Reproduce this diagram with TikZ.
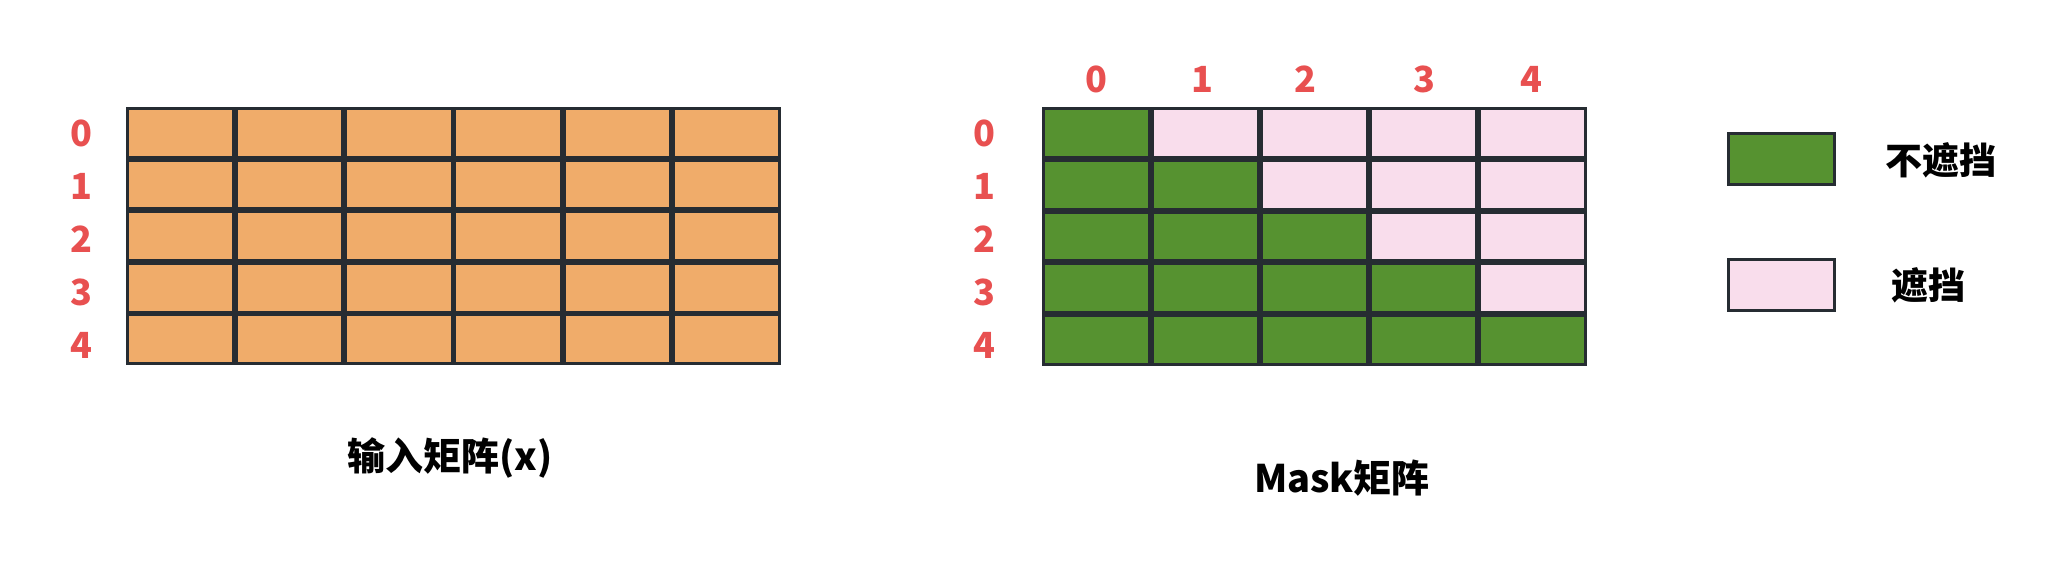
\documentclass[tikz,border=0pt]{standalone}
\usepackage{fontspec}
\setmainfont{Noto Sans CJK SC}
\definecolor{cellorange}{HTML}{F0AC6A}
\definecolor{maskgreen}{HTML}{569230}
\definecolor{maskpink}{HTML}{F9DDEC}
\definecolor{idxred}{HTML}{E85050}
\definecolor{cellline}{HTML}{262C32}
\begin{document}
\begin{tikzpicture}[x=1pt,y=-1pt,
  cell/.style={draw=cellline, line width=3pt, minimum width=106pt, minimum height=48.8pt, inner sep=0pt, outer sep=0pt},
  idx/.style={text=idxred, inner sep=0pt, font=\fontsize{36}{40}\selectfont\bfseries},
  caption/.style={inner sep=0pt, font=\fontsize{38}{44}\selectfont\bfseries},
  legendtext/.style={inner sep=0pt, font=\fontsize{37}{44}\selectfont\bfseries}]
\useasboundingbox (0,0) rectangle (2071,568);
% input matrix
\foreach \r in {0,...,4}{
  \foreach \c in {0,...,5}{
    \node[cell, fill=cellorange, minimum width=106.2pt] (L-\r-\c) at ({126+109.17*\c+54.58}, {107+51.6*\r+25.8}) {};
  }
}
\foreach \r/\y in {0/133,1/186,2/239,3/292,4/345}{
  \node[idx] (LR\r) at (81,\y) {\r};
}
% mask matrix
\foreach \r in {0,...,4}{
  \foreach \c in {0,...,4}{
    \ifnum\c>\r \def\fc{maskpink}\else\def\fc{maskgreen}\fi
    \node[cell, fill=\fc] (M-\r-\c) at ({1042+109*\c+54.5}, {107+51.8*\r+25.9}) {};
  }
}
\foreach \r/\y in {0/133,1/186,2/239,3/292,4/345}{
  \node[idx] (MR\r) at (984,\y) {\r};
}
\foreach \c/\x in {0/1096,1/1202,2/1305,3/1424,4/1531}{
  \node[idx] (MC\c) at (\x,79) {\c};
}
% legend
\node[cell, fill=maskgreen, minimum width=106pt, minimum height=51pt] (LG1) at (1781.5,159) {};
\node[cell, fill=maskpink, minimum width=106pt, minimum height=51pt] (LG2) at (1781.5,285) {};
\node[legendtext] (LT1) at (1941,160) {不遮挡};
\node[legendtext] (LT2) at (1928,285) {遮挡};
% captions
\node[caption] (C1) at (450,458) {输入矩阵(x)};
\node[caption] (C2) at (1342,478) {Mask矩阵};
\end{tikzpicture}
\end{document}
